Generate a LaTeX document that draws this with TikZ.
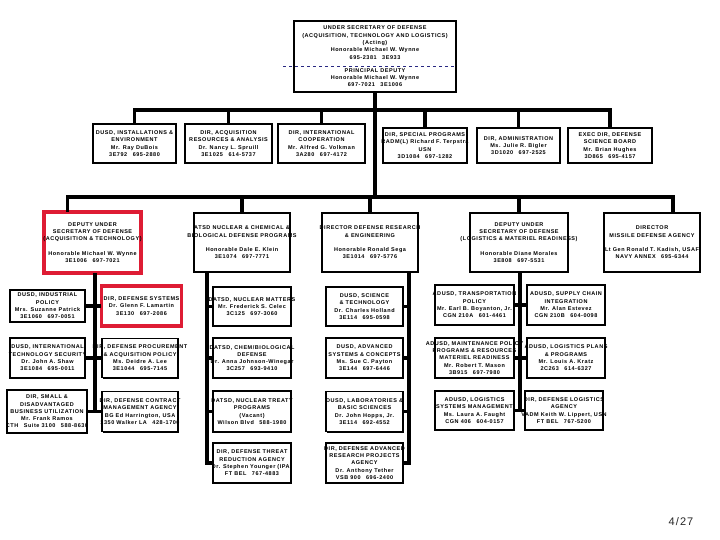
\documentclass[tikz,border=0pt]{standalone}
\usepackage{fontspec}
\setmainfont{Liberation Sans}[LetterSpace=10]
\usetikzlibrary{shadows}
\definecolor{osdred}{RGB}{222,28,52}
\definecolor{dashblue}{RGB}{40,40,130}

\begin{document}
\begin{tikzpicture}[x=1pt, y=-1pt]
    \useasboundingbox (0,0) rectangle (720,540);
    {
        \tikzset{txt/.style = {draw=none, fill=none, align=center, inner sep=0pt,
                font=\fontsize{5.5}{7.3}\selectfont\bfseries},
            org/.style = {draw, line width=1.6pt, fill=white, inner sep=0pt,
                drop shadow={shadow xshift=1.4pt, shadow yshift=-1.4pt, fill=black, opacity=1}},
            osd/.style = {draw=osdred, line width=3.6pt, fill=white, inner sep=0pt}}

        \node[org, minimum width=162pt, minimum height=71pt, label={[txt]center:{UNDER SECRETARY OF DEFENSE\\(ACQUISITION, TECHNOLOGY AND LOGISTICS)\\(Acting)\\
             Honorable Michael W. Wynne\\695-2381\quad 3E933\\[6pt]
             PRINCIPAL DEPUTY\\Honorable Michael W. Wynne\\697-7021\quad 3E1006}}] (usd) at (375, 56.5) {};

        % second row
        \node[org, minimum width=83pt, minimum height=39pt, label={[txt]center:{DUSD, INSTALLATIONS \&\\ENVIRONMENT\\Mr. Ray DuBois\\3E792\quad 695-2880}}] (inst) at (134.5, 143.5) {};
        \node[org, minimum width=87pt, minimum height=39pt, label={[txt]center:{DIR, ACQUISITION\\RESOURCES \& ANALYSIS\\Dr. Nancy L. Spruill\\3E1025\quad 614-5737}}] (ara) at (228.5, 143.5) {};
        \node[org, minimum width=87pt, minimum height=39pt, label={[txt]center:{DIR, INTERNATIONAL\\COOPERATION\\Mr. Alfred G. Volkman\\3A280\quad 697-4172}}] (intl) at (321.5, 143.5) {};
        \node[org, minimum width=84pt, minimum height=35pt, label={[txt]center:{DIR, SPECIAL PROGRAMS\\RADM(L) Richard F. Terpstra\\USN\\3D1084\quad 697-1282}}] (sap) at (425, 145.5) {};
        \node[org, minimum width=83pt, minimum height=35pt, label={[txt]center:{DIR, ADMINISTRATION\\Ms. Julie R. Bigler\\3D1020\quad 697-2525}}] (adm) at (518.5, 145.5) {};
        \node[org, minimum width=84pt, minimum height=35pt, label={[txt]center:{EXEC DIR, DEFENSE\\SCIENCE BOARD\\Mr. Brian Hughes\\3D865\quad 695-4157}}] (dsb) at (610, 145.5) {};

        % third row
        \node[osd, minimum width=97pt, minimum height=61pt, label={[txt]center:{DEPUTY UNDER\\SECRETARY OF DEFENSE\\(ACQUISITION \& TECHNOLOGY)\\[7pt]
             Honorable Michael W. Wynne\\3E1006\quad 697-7021}}] (dusdat) at (92.5, 242.5) {};
        \node[org, minimum width=96pt, minimum height=59pt, label={[txt]center:{ATSD NUCLEAR \& CHEMICAL \&\\BIOLOGICAL DEFENSE PROGRAMS\\[7pt]
             Honorable Dale E. Klein\\3E1074\quad 697-7771}}] (ncb) at (242, 242.5) {};
        \node[org, minimum width=96pt, minimum height=59pt, label={[txt]center:{DIRECTOR DEFENSE RESEARCH\\\& ENGINEERING\\[7pt]
             Honorable Ronald Sega\\3E1014\quad 697-5776}}] (ddre) at (370, 242.5) {};
        \node[org, minimum width=98pt, minimum height=59pt, label={[txt]center:{DEPUTY UNDER\\SECRETARY OF DEFENSE\\(LOGISTICS \& MATERIEL READINESS)\\[7pt]
             Honorable Diane Morales\\3E808\quad 697-5531}}] (dusdlmr) at (519, 242.5) {};
        \node[org, minimum width=96pt, minimum height=59pt, label={[txt]center:{DIRECTOR\\MISSILE DEFENSE AGENCY\\[7pt]
             Lt Gen Ronald T. Kadish, USAF\\NAVY ANNEX\quad 695-6344}}] (mda) at (652, 242.5) {};

        % under acquisition & technology
        \node[org, minimum width=75pt, minimum height=32pt, label={[txt]center:{DUSD, INDUSTRIAL\\POLICY\\Mrs. Suzanne Patrick\\3E1060\quad 697-0051}}] (ip) at (47.5, 306) {};
        \node[org, minimum width=75pt, minimum height=40pt, label={[txt]center:{DUSD, INTERNATIONAL\\TECHNOLOGY SECURITY\\Dr. John A. Shaw\\3E1084\quad 695-0011}}] (its) at (47.5, 358) {};
        \node[org, minimum width=80pt, minimum height=43pt, label={[txt]center:{DIR, SMALL \&\\DISADVANTAGED\\BUSINESS UTILIZATION\\Mr. Frank Ramos\\CTH\quad Suite 3100\quad 588-8630}}] (sadbu) at (47, 411.5) {};
        \node[osd, minimum width=80pt, minimum height=40pt, label={[txt]center:{DIR, DEFENSE SYSTEMS\\Dr. Glenn F. Lamartin\\3E130\quad 697-2086}}] (dsys) at (141.5, 306) {};
        \node[org, minimum width=76pt, minimum height=39pt, label={[txt]center:{DIR, DEFENSE PROCUREMENT\\\& ACQUISITION POLICY\\Ms. Deidre A. Lee\\3E1044\quad 695-7145}}] (dpap) at (140, 358) {};
        \node[org, minimum width=76pt, minimum height=40pt, label={[txt]center:{DIR, DEFENSE CONTRACT\\MANAGEMENT AGENCY\\BG Ed Harrington, USA\\1350 Walker LA\quad 428-1700}}] (dcma) at (140, 411.5) {};

        % under nuclear, chemical & biological
        \node[org, minimum width=78pt, minimum height=39pt, label={[txt]center:{DATSD, NUCLEAR MATTERS\\Mr. Frederick S. Celec\\3C125\quad 697-3060}}] (nm) at (252, 306.5) {};
        \node[org, minimum width=78pt, minimum height=40pt, label={[txt]center:{DATSD, CHEM/BIOLOGICAL\\DEFENSE\\Dr. Anna Johnson-Winegar\\3C257\quad 693-9410}}] (cbd) at (252, 358) {};
        \node[org, minimum width=78pt, minimum height=41pt, label={[txt]center:{DATSD, NUCLEAR TREATY\\PROGRAMS\\(Vacant)\\Wilson Blvd\quad 588-1980}}] (ntp) at (252, 411.5) {};
        \node[org, minimum width=78pt, minimum height=40pt, label={[txt]center:{DIR, DEFENSE THREAT\\REDUCTION AGENCY\\Dr. Stephen Younger (IPA)\\FT BEL\quad 767-4883}}] (dtra) at (252, 463) {};

        % under research & engineering
        \node[org, minimum width=77pt, minimum height=39pt, label={[txt]center:{DUSD, SCIENCE\\\& TECHNOLOGY\\Dr. Charles Holland\\3E114\quad 695-0598}}] (st) at (364.5, 306.5) {};
        \node[org, minimum width=77pt, minimum height=40pt, label={[txt]center:{DUSD, ADVANCED\\SYSTEMS \& CONCEPTS\\Ms. Sue C. Payton\\3E144\quad 697-6446}}] (asc) at (364.5, 358) {};
        \node[org, minimum width=77pt, minimum height=40pt, label={[txt]center:{DUSD, LABORATORIES \&\\BASIC SCIENCES\\Dr. John Hopps, Jr.\\3E114\quad 692-4552}}] (lbs) at (364.5, 411.5) {};
        \node[org, minimum width=77pt, minimum height=40pt, label={[txt]center:{DIR, DEFENSE ADVANCED\\RESEARCH PROJECTS\\AGENCY\\Dr. Anthony Tether\\VSB 900\quad 696-2400}}] (darpa) at (364.5, 463) {};

        % under logistics & materiel readiness
        \node[org, minimum width=79pt, minimum height=40pt, label={[txt]center:{ADUSD, TRANSPORTATION\\POLICY\\Mr. Earl B. Boyanton, Jr.\\CGN 210A\quad 601-4461}}] (tp) at (474.5, 305) {};
        \node[org, minimum width=79pt, minimum height=40pt, label={[txt]center:{ADUSD, MAINTENANCE POLICY\\PROGRAMS \& RESOURCES\\MATERIEL READINESS\\Mr. Robert T. Mason\\3B915\quad 697-7980}}] (mpr) at (474.5, 358) {};
        \node[org, minimum width=79pt, minimum height=39pt, label={[txt]center:{ADUSD, LOGISTICS\\SYSTEMS MANAGEMENT\\Ms. Laura A. Faught\\CGN 406\quad 604-0157}}] (lsm) at (474.5, 410.5) {};
        \node[org, minimum width=78pt, minimum height=40pt, label={[txt]center:{ADUSD, SUPPLY CHAIN\\INTEGRATION\\Mr. Alan Estevez\\CGN 210B\quad 604-0098}}] (sci) at (566, 305) {};
        \node[org, minimum width=78pt, minimum height=40pt, label={[txt]center:{ADUSD, LOGISTICS PLANS\\\& PROGRAMS\\Mr. Louis A. Kratz\\2C263\quad 614-6327}}] (lpp) at (566, 358) {};
        \node[org, minimum width=78pt, minimum height=39pt, label={[txt]center:{DIR, DEFENSE LOGISTICS\\AGENCY\\VADM Keith W. Lippert, USN\\FT BEL\quad 767-5200}}] (dla) at (564, 410.5) {};

        \node[font=\fontsize{11}{13}\selectfont, text=black!85] (page) at (681, 522) {4/27};
    }

    \tikzset{conn/.style = {line width=3.4pt, line cap=rect}}
    \coordinate (split) at (0, 66);
    \coordinate (bus2) at (0, 110);
    \coordinate (bus3) at (0, 197);

    % principal deputy line
    \draw[dashblue, dashed, line width=0.8pt] ([xshift=-10pt]usd.west |- split) -- (usd.east |- split);

    % trunk and the two buses
    \draw[conn] (usd.south) -- (usd.south |- bus3);
    \draw[conn] (inst.north) |- (dsb.north |- bus2) -- (dsb.north);
    \foreach \n in {ara, intl, sap, adm}
        \draw[conn] (\n.north) -- (\n.north |- bus2);

    \coordinate (atup) at ([xshift=-25pt]dusdat.north);
    \coordinate (mdaup) at ([xshift=21pt]mda.north);
    \draw[conn] (atup) |- (mdaup |- bus3) -- (mdaup);
    \foreach \n in {ncb, ddre, dusdlmr}
        \draw[conn] (\n.north) -- (\n.north |- bus3);

    % acquisition & technology branch
    \coordinate (atdown) at ([xshift=2.5pt]dusdat.south);
    \draw[conn] (atdown) -- (atdown |- sadbu.east);
    \draw[conn] (ip.east) -- (dsys.west);
    \draw[conn] (its.east) -- (dpap.west);
    \draw[conn] (sadbu.east) -- (dcma.west);

    % nuclear, chemical & biological branch
    \coordinate (ncbdown) at ([xshift=-35pt]ncb.south);
    \draw[conn] (ncbdown) |- (dtra.west);
    \foreach \n in {nm, cbd, ntp}
        \draw[conn] (\n.west) -- (\n.west -| ncbdown);

    % research & engineering branch
    \coordinate (ddredown) at ([xshift=39pt]ddre.south);
    \draw[conn] (ddredown) |- (darpa.east);
    \foreach \n in {st, asc, lbs}
        \draw[conn] (\n.east) -- (\n.east -| ddredown);

    % logistics & materiel readiness branch
    \coordinate (lmrdown) at ([xshift=1pt]dusdlmr.south);
    \draw[conn] (lmrdown) -- (lmrdown |- lsm.east);
    \draw[conn] (tp.east) -- (sci.west);
    \draw[conn] (mpr.east) -- (lpp.west);
    \draw[conn] (lsm.east) -- (dla.west);
\end{tikzpicture}
\end{document}
